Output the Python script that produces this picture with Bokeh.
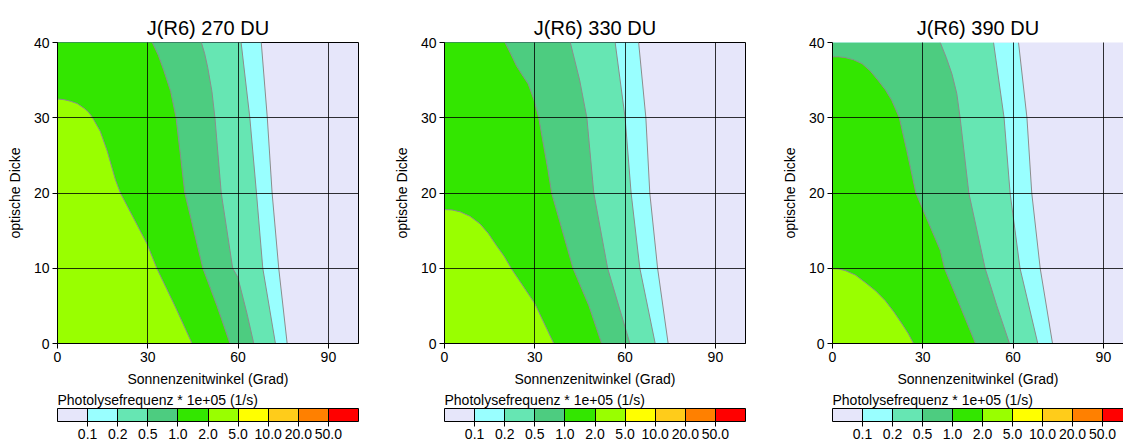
from bokeh.plotting import figure
from bokeh.models import Range1d, FixedTicker, ColorBar, LinearColorMapper, AllLabels
from bokeh.layouts import row
from bokeh.embed import file_html
from bokeh.resources import INLINE

FONT = "Liberation Sans"

# ---------------- data ----------------
levels = [0.1, 0.2, 0.5, 1.0, 2.0, 5.0, 10.0, 20.0, 50.0]
level_labels = ["0.1", "0.2", "0.5", "1.0", "2.0", "5.0", "10.0", "20.0", "50.0"]
colors = ["#E6E6FA", "#99FFFF", "#66E6B3", "#4DCC80", "#33E600",
          "#99FF00", "#FFFF00", "#FFCC1A", "#FF8000", "#FF0000"]
titles = ["J(R6) 270 DU", "J(R6) 330 DU", "J(R6) 390 DU"]
x_ticks = [0, 30, 60, 90]
y_ticks = [0, 10, 20, 30, 40]
cb_title = "Photolysefrequenz * 1e+05 (1/s)"
x_label = "Sonnenzenitwinkel (Grad)"
y_label = "optische Dicke"

# contour boundaries: solar zenith angle (deg) vs optical depth, bottom -> top
# --- 270 DU ---
sza_270_01 = [76.3, 73.5, 71.3, 69.7, 67.7]
tau_270_01 = [0, 10, 20, 30, 40]
sza_270_02 = [72.4, 68.2, 66.1, 63.9, 61.0]
tau_270_02 = [0, 10, 20, 30, 40]
sza_270_05 = [65.2, 63.0, 59.9, 58.2, 54.4, 52.3, 51.3, 49.9, 48.9, 47.8]
tau_270_05 = [0, 3.9, 8.8, 10, 20, 30, 33.5, 36.7, 38.5, 40]
sza_270_10 = [57.3, 53.0, 48.3, 42.3, 39.4, 37.6, 35.3, 33.5, 31.5]
tau_270_10 = [0, 5, 10, 20, 30, 33.5, 36.3, 38.3, 40]
sza_270_20 = [44.7, 39.0, 33.1, 29.8, 20.9, 19.3, 16.5, 14.2, 11.5,
               10.2, 8.7, 6.5, 4.3, 2.2, 0]
tau_270_20 = [0, 5, 9.9, 13.2, 20, 21.7, 25.6, 28.2, 30.1,
              30.8, 31.3, 31.9, 32.2, 32.4, 32.5]

# --- 330 DU ---
sza_330_01 = [74.3, 70.8, 68.2, 66.9, 64.5]
tau_330_01 = [0, 10, 20, 30, 40]
sza_330_02 = [70.0, 64.9, 62.0, 60.0, 56.7]
tau_330_02 = [0, 10, 20, 30, 40]
sza_330_05 = [61.6, 57.9, 54.2, 49.6, 47.3, 44.9, 41.8]
tau_330_05 = [0, 5, 10, 20, 30, 35, 40]
sza_330_10 = [52.2, 48.0, 42.7, 35.6, 34.4, 31.3, 29.8, 27.8, 25.8, 23.9, 22.0, 20.1]
tau_330_10 = [0, 5, 10, 20, 23, 30, 32.3, 34.5, 35.7, 36.9, 38.5, 40]
sza_330_20 = [36.3, 30.0, 22.3, 19.8, 17.3, 14.6, 11.8, 8.5, 5.2, 2.5, 0]
tau_330_20 = [0, 5.3, 9.9, 11.6, 13.0, 14.6, 15.9, 16.9, 17.5, 17.75, 17.8]

# --- 390 DU ---
sza_390_01 = [73.1, 69.0, 66.2, 64.6, 61.8]
tau_390_01 = [0, 10, 20, 30, 40]
sza_390_02 = [68.2, 62.3, 59.0, 57.0, 53.5]
tau_390_02 = [0, 10, 20, 30, 40]
sza_390_05 = [58.8, 54.6, 50.7, 45.3, 42.4, 41.3, 39.7, 37.8, 35.8]
tau_390_05 = [0, 5, 10, 20, 30, 33.2, 35.8, 38.0, 40]
sza_390_10 = [47.5, 42.4, 37.2, 35.8, 27.7, 24.7, 22.2, 19.7, 17.6, 15.3,
              12.6, 9.8, 7.0, 4.2, 2.0, 0]
tau_390_10 = [0, 5, 10, 12.4, 20, 25.6, 30, 32.3, 33.7, 34.9,
              36.2, 37.2, 37.7, 38.0, 38.1, 38.1]
sza_390_20 = [26.9, 25.2, 23.1, 20.4, 17.5, 14.3, 10.9, 7.6, 4.2, 2.0, 0]
tau_390_20 = [0, 1.3, 2.6, 4.2, 5.7, 7.0, 8.1, 9.1, 9.7, 9.9, 9.95]

panels = [
    [(sza_270_01, tau_270_01), (sza_270_02, tau_270_02), (sza_270_05, tau_270_05),
     (sza_270_10, tau_270_10), (sza_270_20, tau_270_20)],
    [(sza_330_01, tau_330_01), (sza_330_02, tau_330_02), (sza_330_05, tau_330_05),
     (sza_330_10, tau_330_10), (sza_330_20, tau_330_20)],
    [(sza_390_01, tau_390_01), (sza_390_02, tau_390_02), (sza_390_05, tau_390_05),
     (sza_390_10, tau_390_10), (sza_390_20, tau_390_20)],
]

# ---------------- layout ----------------
FRAME = 301
LEFT = 57
TOP = 42
BOTTOM = 99
PX_PER_DEG = FRAME / 100.0
BOX_PX = FRAME / len(colors)
SUB = 10  # palette sub-steps so a clipped colour bar keeps full-size boxes


def make_panel(idx, frame_w, right, outline=True):
    xmax = frame_w / PX_PER_DEG
    p = figure(frame_width=frame_w, frame_height=FRAME,
               x_range=Range1d(0, xmax), y_range=Range1d(0, 40),
               output_backend="svg", toolbar_location=None,
               min_border_left=LEFT, min_border_right=right,
               min_border_top=TOP, min_border_bottom=BOTTOM,
               title=titles[idx])
    p.background_fill_color = colors[0]
    p.border_fill_color = "white"
    p.outline_line_color = "black" if outline else None
    p.outline_line_width = 1

    bounds = panels[idx]
    xs_list, ys_list, cols = [], [], []
    for k, (bx, by) in enumerate(bounds):
        xs_list.append([0] + list(bx) + [0])
        ys_list.append([0] + list(by) + [by[-1]])
        cols.append(colors[k + 1])
    p.patches(xs_list, ys_list, fill_color=cols, line_alpha=0)
    p.multi_line([list(b[0]) for b in bounds], [list(b[1]) for b in bounds],
                 line_color="#8C8C8C", line_width=1)

    # title
    p.title.align = "center"
    p.title.text_font = FONT
    p.title.text_font_size = "20px"
    p.title.text_font_style = "normal"
    p.title.text_color = "black"
    p.title.standoff = 8

    # axes
    for ax in (p.xaxis[0], p.yaxis[0]):
        ax.axis_line_color = "black"
        ax.major_tick_line_color = "black"
        ax.major_tick_out = 5
        ax.major_tick_in = 0
        ax.minor_tick_line_color = None
        ax.major_label_text_font = FONT
        ax.major_label_text_font_size = "14px"
        ax.major_label_text_color = "black"
        ax.axis_label_text_font = FONT
        ax.axis_label_text_font_size = "14px"
        ax.axis_label_text_font_style = "normal"
        ax.axis_label_text_color = "black"
        ax.major_label_standoff = 3
    p.xaxis.ticker = FixedTicker(ticks=x_ticks)
    p.yaxis.ticker = FixedTicker(ticks=y_ticks)
    p.xaxis.axis_label = x_label
    p.yaxis.axis_label = y_label
    p.xaxis.axis_label_standoff = 6
    p.yaxis.axis_label_standoff = 8

    # grid over the fills
    for g in (p.xgrid[0], p.ygrid[0]):
        g.grid_line_color = "black"
        g.grid_line_alpha = 0.8
        g.grid_line_width = 1
        g.level = "overlay"
    p.xgrid.ticker = FixedTicker(ticks=x_ticks)
    p.ygrid.ticker = FixedTicker(ticks=y_ticks)

    # colour bar (boxes of equal width; the last panel shows it cut at the edge)
    fine_palette = [c for c in colors for _ in range(SUB)]
    mapper = LinearColorMapper(palette=fine_palette, low=0, high=len(colors))
    shown = min(len(colors), frame_w / BOX_PX)
    cb = ColorBar(color_mapper=mapper, orientation="horizontal",
                  width=frame_w, height=13,
                  display_low=0, display_high=shown - 0.5 / SUB,
                  ticker=FixedTicker(ticks=list(range(1, len(levels) + 1))),
                  major_label_overrides={i + 1: lab for i, lab in enumerate(level_labels)},
                  major_label_policy=AllLabels(),
                  title=cb_title, title_text_font=FONT, title_text_font_size="14px",
                  title_text_font_style="normal", title_text_color="black",
                  title_standoff=1,
                  major_label_text_font=FONT, major_label_text_font_size="14px",
                  major_label_text_color="black", label_standoff=2,
                  major_tick_in=13, major_tick_out=5,
                  major_tick_line_color="black", minor_tick_line_color=None,
                  bar_line_color="black", padding=0, margin=0,
                  background_fill_alpha=0)
    p.add_layout(cb, "below")
    return p


p1 = make_panel(0, FRAME, 29)
p2 = make_panel(1, FRAME, 30)
p3 = make_panel(2, 291, 0, outline=False)

layout = row(p1, p2, p3)
open("out.html", "w").write(file_html(layout, INLINE))
